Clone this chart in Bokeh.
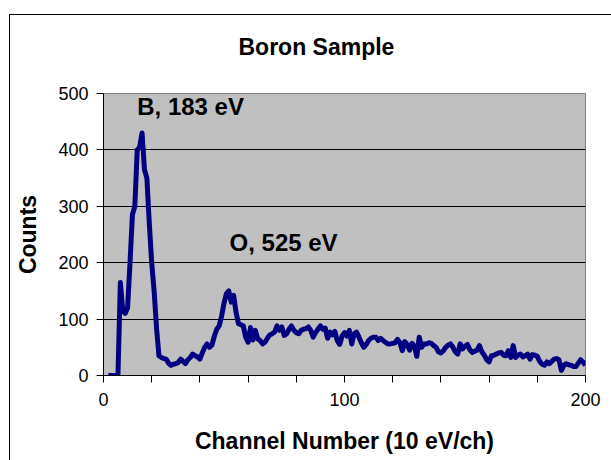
from bokeh.plotting import figure
from bokeh.embed import file_html
from bokeh.resources import INLINE
from bokeh.models import FixedTicker, Range1d
from bokeh.core.properties import value

# ---- data ----
channels = list(range(2, 201))
counts = [
    0, 0, 0, 0, 0, 165, 115, 110, 120,            # 2-10
    200, 285, 300, 400, 405, 430, 365, 350, 270, 200,  # 11-20
    150, 85, 35, 32, 30, 29, 22, 18, 20, 21,       # 21-30
    23, 29, 25, 21, 28, 32, 38, 35, 33, 29,        # 31-40
    40, 50, 56, 50, 54, 70, 82, 88, 105, 128,      # 41-50
    145, 150, 130, 142, 112, 92, 90, 88, 68, 59,   # 51-60
    85, 63, 80, 65, 62, 56, 59, 66, 72, 74,        # 61-70
    77, 88, 80, 86, 71, 74, 82, 88, 80, 76,        # 71-80
    74, 80, 82, 83, 86, 80, 68, 76, 82, 88,        # 81-90
    82, 84, 66, 77, 72, 78, 62, 55, 70, 76,        # 91-100
    70, 80, 56, 74, 77, 68, 58, 50, 55, 62,        # 101-110
    66, 68, 68, 62, 66, 62, 59, 56, 56, 57,        # 111-120
    58, 64, 58, 44, 60, 55, 45, 57, 52, 34,        # 121-130
    68, 50, 56, 56, 58, 57, 53, 50, 42, 40,        # 131-140
    44, 50, 54, 56, 50, 42, 38, 56, 47, 52,        # 141-150
    55, 46, 41, 43, 45, 53, 42, 36, 28, 24,        # 151-160
    35, 36, 38, 40, 41, 36, 35, 44, 32, 53,        # 161-170
    32, 36, 38, 33, 35, 38, 29, 37, 36, 34,        # 171-180
    25, 20, 18, 24, 21, 25, 29, 30, 28, 9,         # 181-190
    18, 21, 19, 18, 16, 16, 22, 28, 24, 18,        # 191-200
]
x_ticks = [0, 100, 200]
x_minor_ticks = [20, 40, 60, 80, 120, 140, 160, 180]
y_ticks = [0, 100, 200, 300, 400, 500]

peak_labels = ["B, 183 eV", "O, 525 eV"]
peak_label_x = [14, 52.3]
peak_label_y = [477, 235]

FONT = "Liberation Sans"

# chart-area border (top and left edges; right/bottom lie outside the window)
border_css = {
    "background-color": "white",
    "background-image": "linear-gradient(#000, #000), linear-gradient(#000, #000)",
    "background-position": "9px 14px, 9px 14px",
    "background-size": "1px 446px, 602px 1px",
    "background-repeat": "no-repeat",
}

p = figure(
    width=611, height=460,
    styles=border_css,
    output_backend="svg", toolbar_location=None, tools="",
    x_range=Range1d(0, 200), y_range=Range1d(0, 500),
    title="Boron Sample",
    min_border_left=103, min_border_right=26, min_border_top=93, min_border_bottom=85,
    background_fill_color="#C0C0C0", border_fill_color=None,
)

p.title.align = "left"
p.title.vertical_align = "top"
p.title.text_font = FONT
p.title.text_font_size = "23px"
p.title.text_font_style = "bold"
p.title.text_color = "black"
p.title.offset = 135
p.title.standoff = 64

p.outline_line_color = "#808080"

p.line(channels, counts, line_color="#000080", line_width=5, line_join="round")

p.text(x=peak_label_x, y=peak_label_y, text=peak_labels,
       text_font=value(FONT), text_font_style="bold", text_font_size="24px",
       text_baseline="alphabetic", text_align="left", text_color="black")

# axes
p.xaxis.ticker = FixedTicker(ticks=x_ticks, minor_ticks=x_minor_ticks)
p.yaxis.ticker = FixedTicker(ticks=y_ticks)
for ax in (p.xaxis, p.yaxis):
    ax.axis_line_color = "black"
    ax.major_tick_line_color = "black"
    ax.minor_tick_line_color = "black"
    ax.major_tick_in = 0
    ax.major_tick_out = 7
    ax.minor_tick_in = 0
    ax.minor_tick_out = 7
    ax.major_label_text_font = FONT
    ax.major_label_text_font_size = "18px"
    ax.major_label_text_color = "black"
    ax.axis_label_text_font = FONT
    ax.axis_label_text_font_size = "23px"
    ax.axis_label_text_font_style = "bold"
    ax.axis_label_text_color = "black"
p.yaxis.minor_tick_line_color = None
p.xaxis.axis_label = "Channel Number (10 eV/ch)"
p.yaxis.axis_label = "Counts"
p.xaxis.major_label_standoff = 10
p.yaxis.major_label_standoff = 8
p.xaxis.axis_label_standoff = 19
p.yaxis.axis_label_standoff = 14

p.xgrid.grid_line_color = None
p.ygrid.grid_line_color = "black"
p.ygrid.grid_line_width = 1

open("out.html", "w").write(file_html(p, INLINE))
